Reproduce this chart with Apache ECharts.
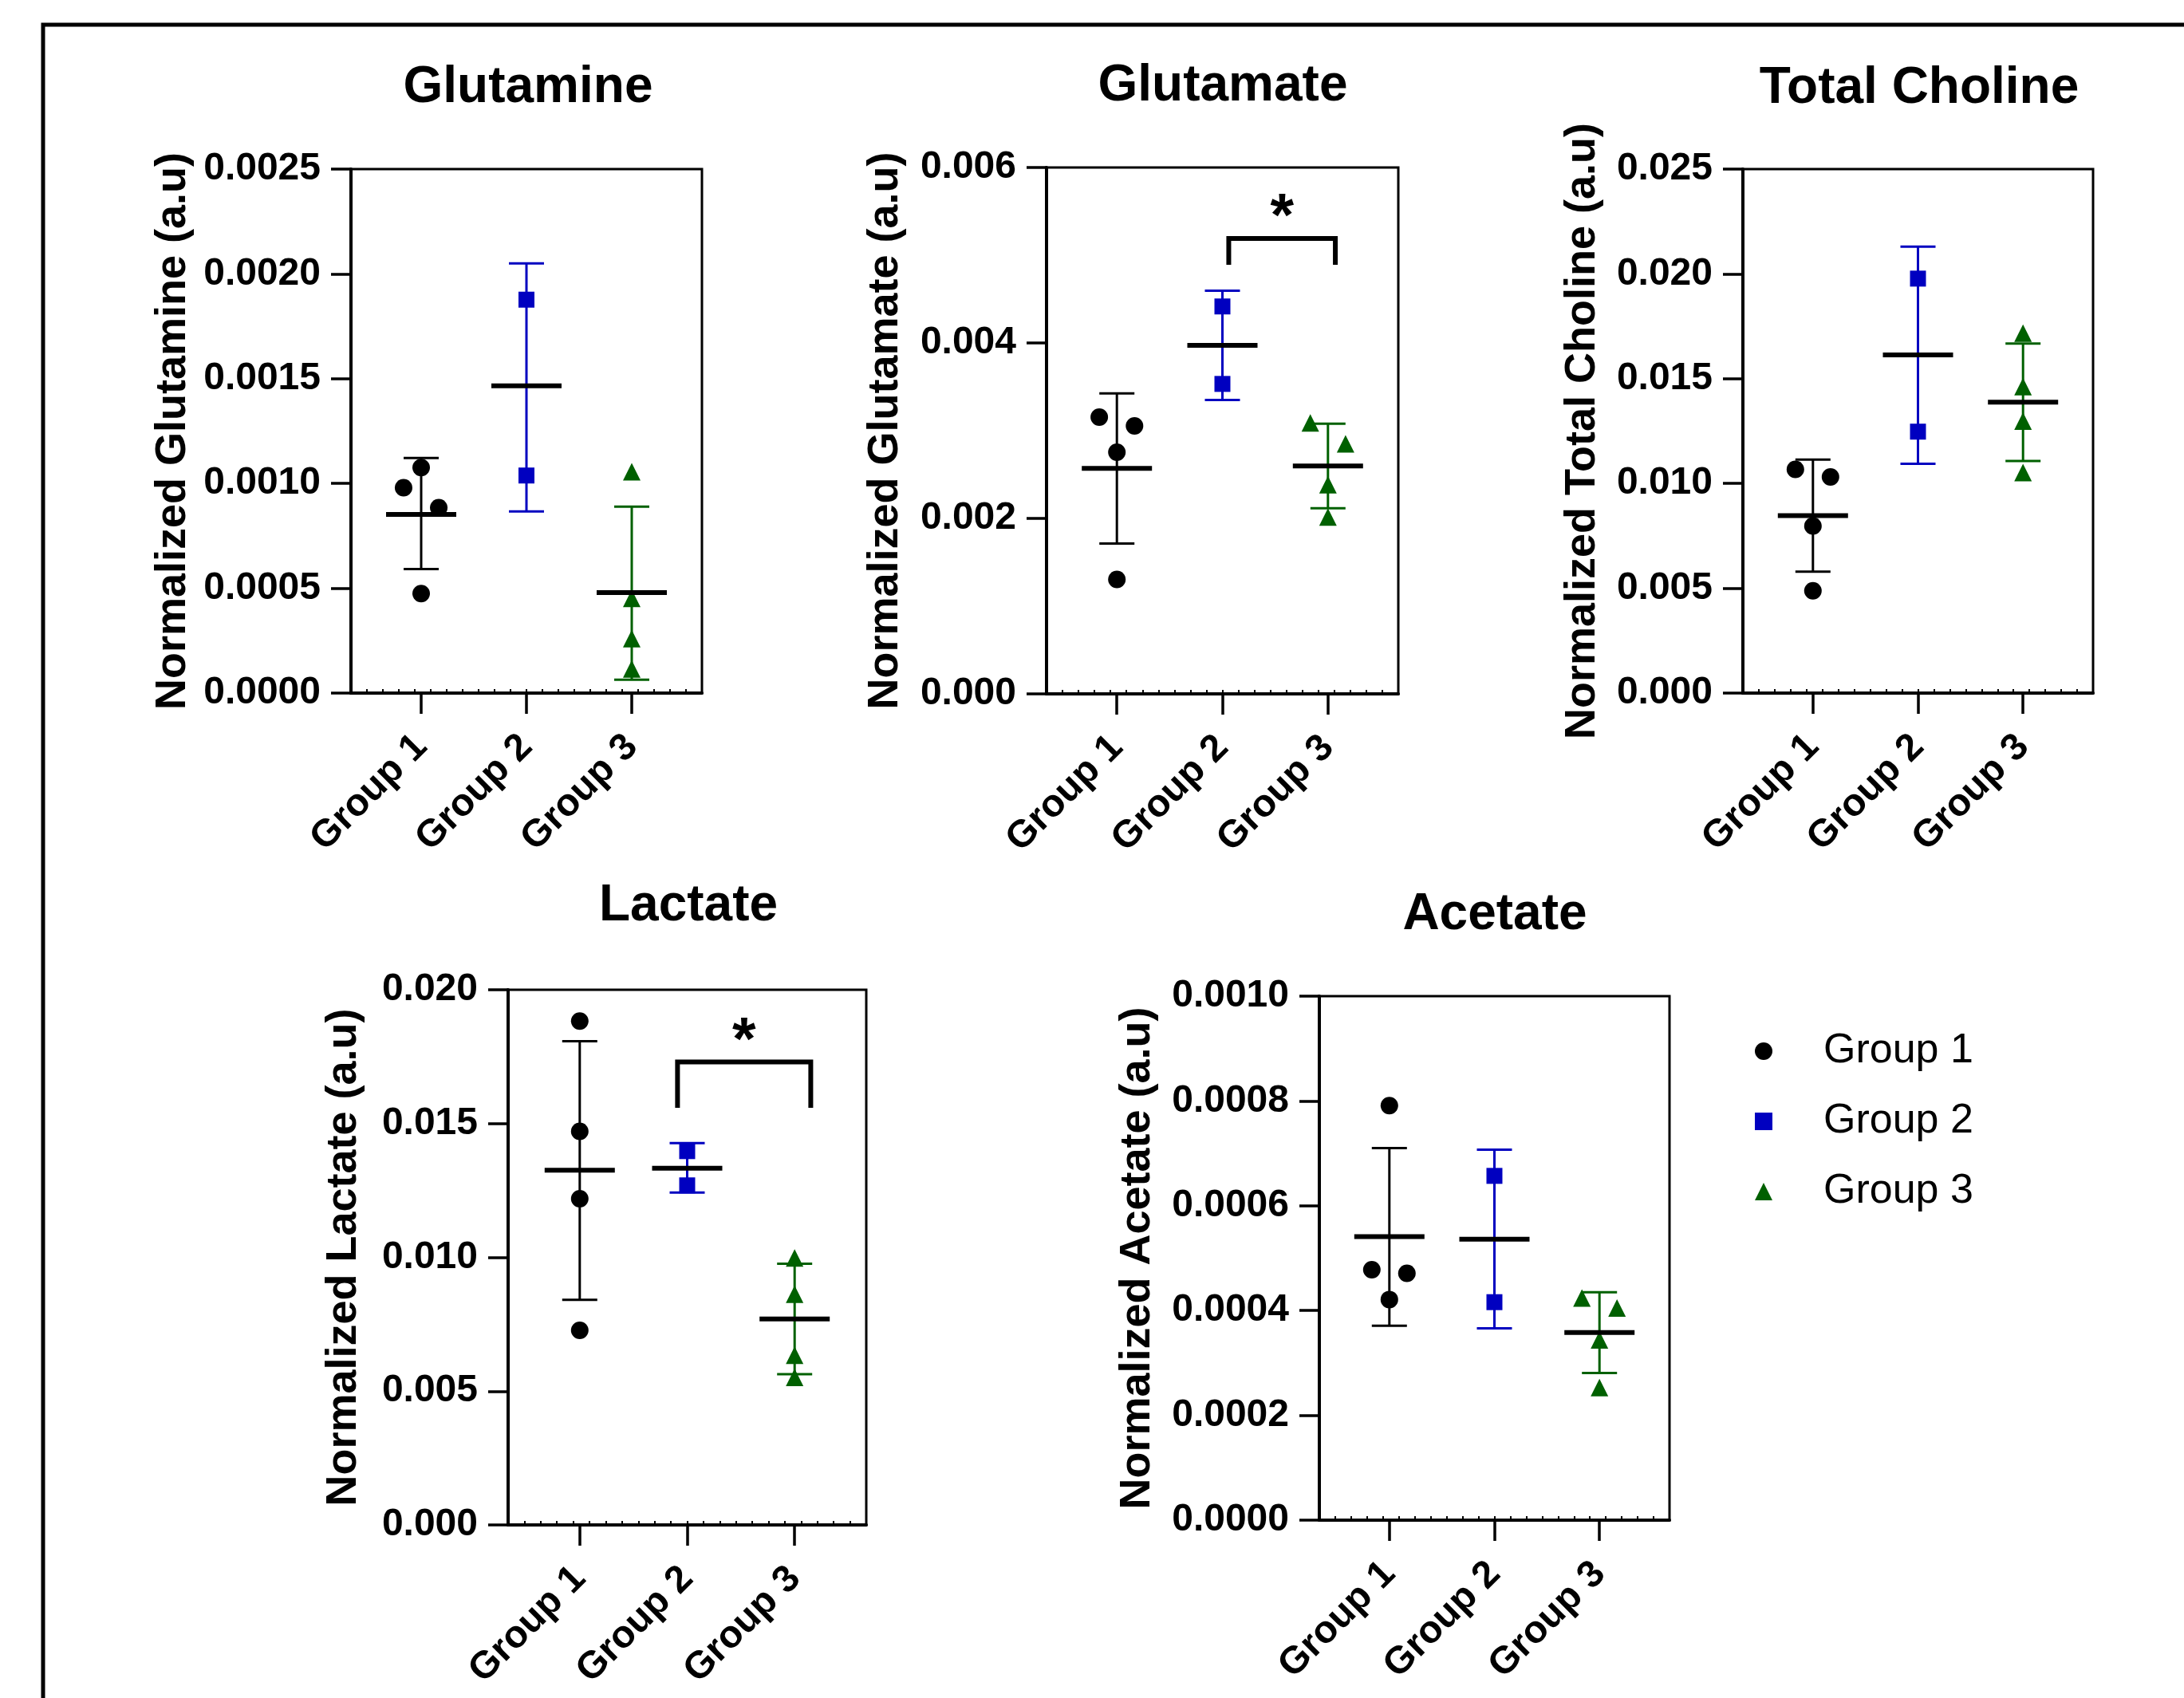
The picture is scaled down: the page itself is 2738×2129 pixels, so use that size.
<!DOCTYPE html>
<html>
<head>
<meta charset="utf-8">
<script src="https://cdn.jsdelivr.net/npm/echarts@6/dist/echarts.min.js"></script>
<style>
html,body{margin:0;padding:0;background:#ffffff;}
#chart{width:2738px;height:2129px;}
</style>
</head>
<body>
<div id="chart"></div>
<script>
// ---------- DATA ----------
const categories = ['Group 1', 'Group 2', 'Group 3'];
const panelTitles = ['Glutamine', 'Glutamate', 'Total Choline', 'Lactate', 'Acetate'];
const yAxisNames = [
  'Normalized Glutamine (a.u)',
  'Normalized Glutamate (a.u)',
  'Normalized Total Choline (a.u)',
  'Normalized Lactate (a.u)',
  'Normalized Acetate (a.u)'
];

// Glutamine
const glnTicks = ['0.0000', '0.0005', '0.0010', '0.0015', '0.0020', '0.0025'];
const glnG1 = [0.001076, 0.000980, 0.000885, 0.000475];
const glnG1Jitter = [0, -0.167, 0.167, 0];
const glnG2 = [0.001877, 0.001038];
const glnG2Jitter = [0, 0];
const glnG3 = [0.001056, 0.000452, 0.000260, 0.000115];
const glnG3Jitter = [0, 0, 0, 0];
const glnMean = [0.000852, 0.001466, 0.000479];
const glnLow = [0.000592, 0.000867, 0.000064];
const glnHigh = [0.001122, 0.002050, 0.000889];

// Glutamate
const gluTicks = ['0.000', '0.002', '0.004', '0.006'];
const gluG1 = [0.003154, 0.003054, 0.002754, 0.001305];
const gluG1Jitter = [-0.167, 0.167, 0, 0];
const gluG2 = [0.004416, 0.003533];
const gluG2Jitter = [0, 0];
const gluG3 = [0.003089, 0.002850, 0.002384, 0.002015];
const gluG3Jitter = [-0.167, 0.167, 0, 0];
const gluMean = [0.002571, 0.003972, 0.002598];
const gluLow = [0.001714, 0.003350, 0.002115];
const gluHigh = [0.003424, 0.004595, 0.003080];
const gluBracket = [2.06, 3.07, 0.00519, 0.00489]; // x-from, x-to, top, leg end
const gluStar = '*';

// Total Choline
const choTicks = ['0.000', '0.005', '0.010', '0.015', '0.020', '0.025'];
const choG1 = [0.01067, 0.01031, 0.007975, 0.00488];
const choG1Jitter = [-0.167, 0.167, 0, 0];
const choG2 = [0.019774, 0.012473];
const choG2Jitter = [0, 0];
const choG3 = [0.01717, 0.01462, 0.01298, 0.01052];
const choG3Jitter = [0, 0, 0, 0];
const choMean = [0.008467, 0.016133, 0.013875];
const choLow = [0.00579, 0.010943, 0.01107];
const choHigh = [0.011143, 0.021304, 0.01668];

// Lactate
const lacTicks = ['0.000', '0.005', '0.010', '0.015', '0.020'];
const lacG1 = [0.01883, 0.01471, 0.01219, 0.00727];
const lacG1Jitter = [0, 0, 0, 0];
const lacG2 = [0.01397, 0.01269];
const lacG2Jitter = [0, 0];
const lacG3 = [0.00998, 0.008625, 0.006344, 0.005517];
const lacG3Jitter = [0, 0, 0, 0];
const lacMean = [0.013257, 0.013329, 0.007698];
const lacLow = [0.00841, 0.01242, 0.005631];
const lacHigh = [0.018076, 0.01427, 0.009765];
const lacBracket = [1.91, 3.15, 0.0173, 0.01559];
const lacStar = '*';

// Acetate
const aceTicks = ['0.0000', '0.0002', '0.0004', '0.0006', '0.0008', '0.0010'];
const aceG1 = [0.000791, 0.000478, 0.000471, 0.000421];
const aceG1Jitter = [0, -0.167, 0.167, 0];
const aceG2 = [0.000657, 0.000416];
const aceG2Jitter = [0, 0];
const aceG3 = [0.000424, 0.000405, 0.000344, 0.000253];
const aceG3Jitter = [-0.167, 0.167, 0, 0];
const aceMean = [0.000541, 0.000536, 0.000358];
const aceLow = [0.000371, 0.000366, 0.000281];
const aceHigh = [0.000710, 0.000707, 0.000435];

// ---------- STYLE / LAYOUT ----------
const FONT = '"Liberation Sans", Arial, Helvetica, sans-serif';
const groupColors = ['#000000', '#0000c0', '#006000'];
const groupSymbols = ['circle', 'rect', 'triangle'];
const groupSymbolSizes = [22, 20, 22];

const panels = [
  { ticks: glnTicks, groups: [[glnG1, glnG1Jitter], [glnG2, glnG2Jitter], [glnG3, glnG3Jitter]],
    mean: glnMean, low: glnLow, high: glnHigh, bracket: null,
    grid: { left: 440, top: 212, width: 440, height: 657 }, nameGap: 196,
    title: { x: 657, y: 73 } },
  { ticks: gluTicks, groups: [[gluG1, gluG1Jitter], [gluG2, gluG2Jitter], [gluG3, gluG3Jitter]],
    mean: gluMean, low: gluLow, high: gluHigh, bracket: gluBracket, star: gluStar,
    grid: { left: 1312, top: 210, width: 441, height: 660 }, nameGap: 175,
    title: { x: 1528, y: 71 } },
  { ticks: choTicks, groups: [[choG1, choG1Jitter], [choG2, choG2Jitter], [choG3, choG3Jitter]],
    mean: choMean, low: choLow, high: choHigh, bracket: null,
    grid: { left: 2185, top: 212, width: 439, height: 657 }, nameGap: 174,
    title: { x: 2401, y: 74 } },
  { ticks: lacTicks, groups: [[lacG1, lacG1Jitter], [lacG2, lacG2Jitter], [lacG3, lacG3Jitter]],
    mean: lacMean, low: lacLow, high: lacHigh, bracket: lacBracket, star: lacStar,
    grid: { left: 637, top: 1241, width: 449, height: 671 }, nameGap: 179,
    title: { x: 858, y: 1099 } },
  { ticks: aceTicks, groups: [[aceG1, aceG1Jitter], [aceG2, aceG2Jitter], [aceG3, aceG3Jitter]],
    mean: aceMean, low: aceLow, high: aceHigh, bracket: null,
    grid: { left: 1654, top: 1249, width: 439, height: 657 }, nameGap: 201,
    title: { x: 1869, y: 1110 } }
];

const grids = [], xAxes = [], yAxes = [], series = [], titles = [];

panels.forEach((p, pi) => {
  grids.push(Object.assign({ show: true, borderColor: '#000', borderWidth: 3, backgroundColor: 'transparent' }, p.grid));
  titles.push({
    text: panelTitles[pi], left: p.title.x, top: p.title.y, textAlign: 'center',
    textStyle: { fontFamily: FONT, fontSize: 64, fontWeight: 'bold', color: '#000', lineHeight: 64 }
  });
  const dec = p.ticks[0].split('.')[1].length;
  const yMax = parseFloat(p.ticks[p.ticks.length - 1]);
  const yStep = parseFloat(p.ticks[1]);
  yAxes.push({
    type: 'value', gridIndex: pi, min: 0, max: yMax, interval: yStep,
    name: yAxisNames[pi], nameLocation: 'middle', nameGap: p.nameGap,
    nameTextStyle: { fontFamily: FONT, fontSize: 54, fontWeight: 'bold', color: '#000' },
    axisLine: { show: true, lineStyle: { color: '#000', width: 4 } },
    axisTick: { show: true, length: 25, lineStyle: { color: '#000', width: 3.5 } },
    axisLabel: { margin: 38, fontFamily: FONT, fontSize: 48, fontWeight: 'bold', color: '#000',
      formatter: v => v.toFixed(dec) },
    splitLine: { show: false }
  });
  // main x axis (groups)
  xAxes.push({
    type: 'value', gridIndex: pi, min: 1 / 3, max: 11 / 3, position: 'bottom',
    axisLine: { show: true, onZero: false, lineStyle: { color: '#000', width: 4 } },
    axisTick: { show: true, length: 26, customValues: [1, 2, 3], lineStyle: { color: '#000', width: 3.5 } },
    axisLabel: { show: true, rotate: 45, margin: 60, customValues: [1, 2, 3],
      fontFamily: FONT, fontSize: 48, fontWeight: 'bold', color: '#000',
      formatter: v => categories[Math.round(v) - 1] },
    splitLine: { show: false }
  });
  // minor ticks axis
  xAxes.push({
    type: 'value', gridIndex: pi, min: 0, max: 22, interval: 1, position: 'bottom',
    axisLine: { show: false, onZero: false },
    axisTick: { show: true, inside: true, length: 5, lineStyle: { color: '#000', width: 2 } },
    axisLabel: { show: false },
    splitLine: { show: false }
  });
  const xi = pi * 2;

  // error bars (SD)
  series.push({
    type: 'custom', name: 'sd' + pi, xAxisIndex: xi, yAxisIndex: pi, z: 2, silent: true,
    data: categories.map((c, g) => [g + 1, p.mean[g], p.low[g], p.high[g]]),
    renderItem: (params, api) => {
      const g = api.value(0);
      const c = api.coord([g, api.value(1)]);
      const lo = api.coord([g, api.value(2)]);
      const hi = api.coord([g, api.value(3)]);
      const col = groupColors[g - 1];
      const st = { stroke: col, lineWidth: 3 };
      return { type: 'group', children: [
        { type: 'line', shape: { x1: c[0], y1: lo[1], x2: c[0], y2: hi[1] }, style: st },
        { type: 'line', shape: { x1: c[0] - 22, y1: hi[1], x2: c[0] + 22, y2: hi[1] }, style: st },
        { type: 'line', shape: { x1: c[0] - 22, y1: lo[1], x2: c[0] + 22, y2: lo[1] }, style: st }
      ]};
    }
  });
  // points
  p.groups.forEach((gr, g) => {
    series.push({
      type: 'scatter', name: categories[g], xAxisIndex: xi, yAxisIndex: pi, z: 3,
      symbol: groupSymbols[g], symbolSize: groupSymbolSizes[g],
      itemStyle: { color: groupColors[g], opacity: 1 },
      data: gr[0].map((v, k) => [g + 1 + gr[1][k], v])
    });
  });
  // mean lines
  series.push({
    type: 'custom', name: 'mean' + pi, xAxisIndex: xi, yAxisIndex: pi, z: 4, silent: true,
    data: categories.map((c, g) => [g + 1, p.mean[g]]),
    renderItem: (params, api) => {
      const c = api.coord([api.value(0), api.value(1)]);
      return { type: 'line', shape: { x1: c[0] - 44, y1: c[1], x2: c[0] + 44, y2: c[1] },
        style: { stroke: '#000', lineWidth: 6 } };
    }
  });
  // significance bracket
  if (p.bracket) {
    const star = p.star;
    series.push({
      type: 'custom', name: 'sig' + pi, xAxisIndex: xi, yAxisIndex: pi, z: 4, silent: true,
      data: [p.bracket],
      renderItem: (params, api) => {
        const a = api.coord([api.value(0), api.value(2)]);
        const b = api.coord([api.value(1), api.value(2)]);
        const aEnd = api.coord([api.value(0), api.value(3)]);
        return { type: 'group', children: [
          { type: 'polyline', shape: { points: [[a[0], aEnd[1]], [a[0], a[1]], [b[0], b[1]], [b[0], aEnd[1]]] },
            style: { stroke: '#000', lineWidth: 6, fill: null } },
          { type: 'text', x: (a[0] + b[0]) / 2, y: a[1] - 25,
            style: { text: star, fontFamily: FONT, fontSize: 76, fontWeight: 'bold', fill: '#000',
              align: 'center', verticalAlign: 'middle' } }
        ]};
      }
    });
  }
});

const option = {
  backgroundColor: '#ffffff',
  animation: false,
  title: titles,
  grid: grids,
  xAxis: xAxes,
  yAxis: yAxes,
  legend: {
    orient: 'vertical', left: 2195, top: 1287,
    itemWidth: 22, itemHeight: 22, itemGap: 36,
    data: [
      { name: 'Group 1', icon: 'circle' },
      { name: 'Group 2', icon: 'rect' },
      { name: 'Group 3', icon: 'triangle' }
    ],
    textStyle: { fontFamily: FONT, fontSize: 52, color: '#000', lineHeight: 52, padding: [0, 0, 0, 59] },
    selectedMode: false
  },
  graphic: [
    { type: 'rect', shape: { x: 54, y: 31, width: 3200, height: 3200 },
      style: { fill: null, stroke: '#000', lineWidth: 5 }, z: 10, silent: true }
  ],
  series: series
};

const chart = echarts.init(document.getElementById('chart'), null, { renderer: 'canvas' });
chart.setOption(option);
</script>
</body>
</html>
